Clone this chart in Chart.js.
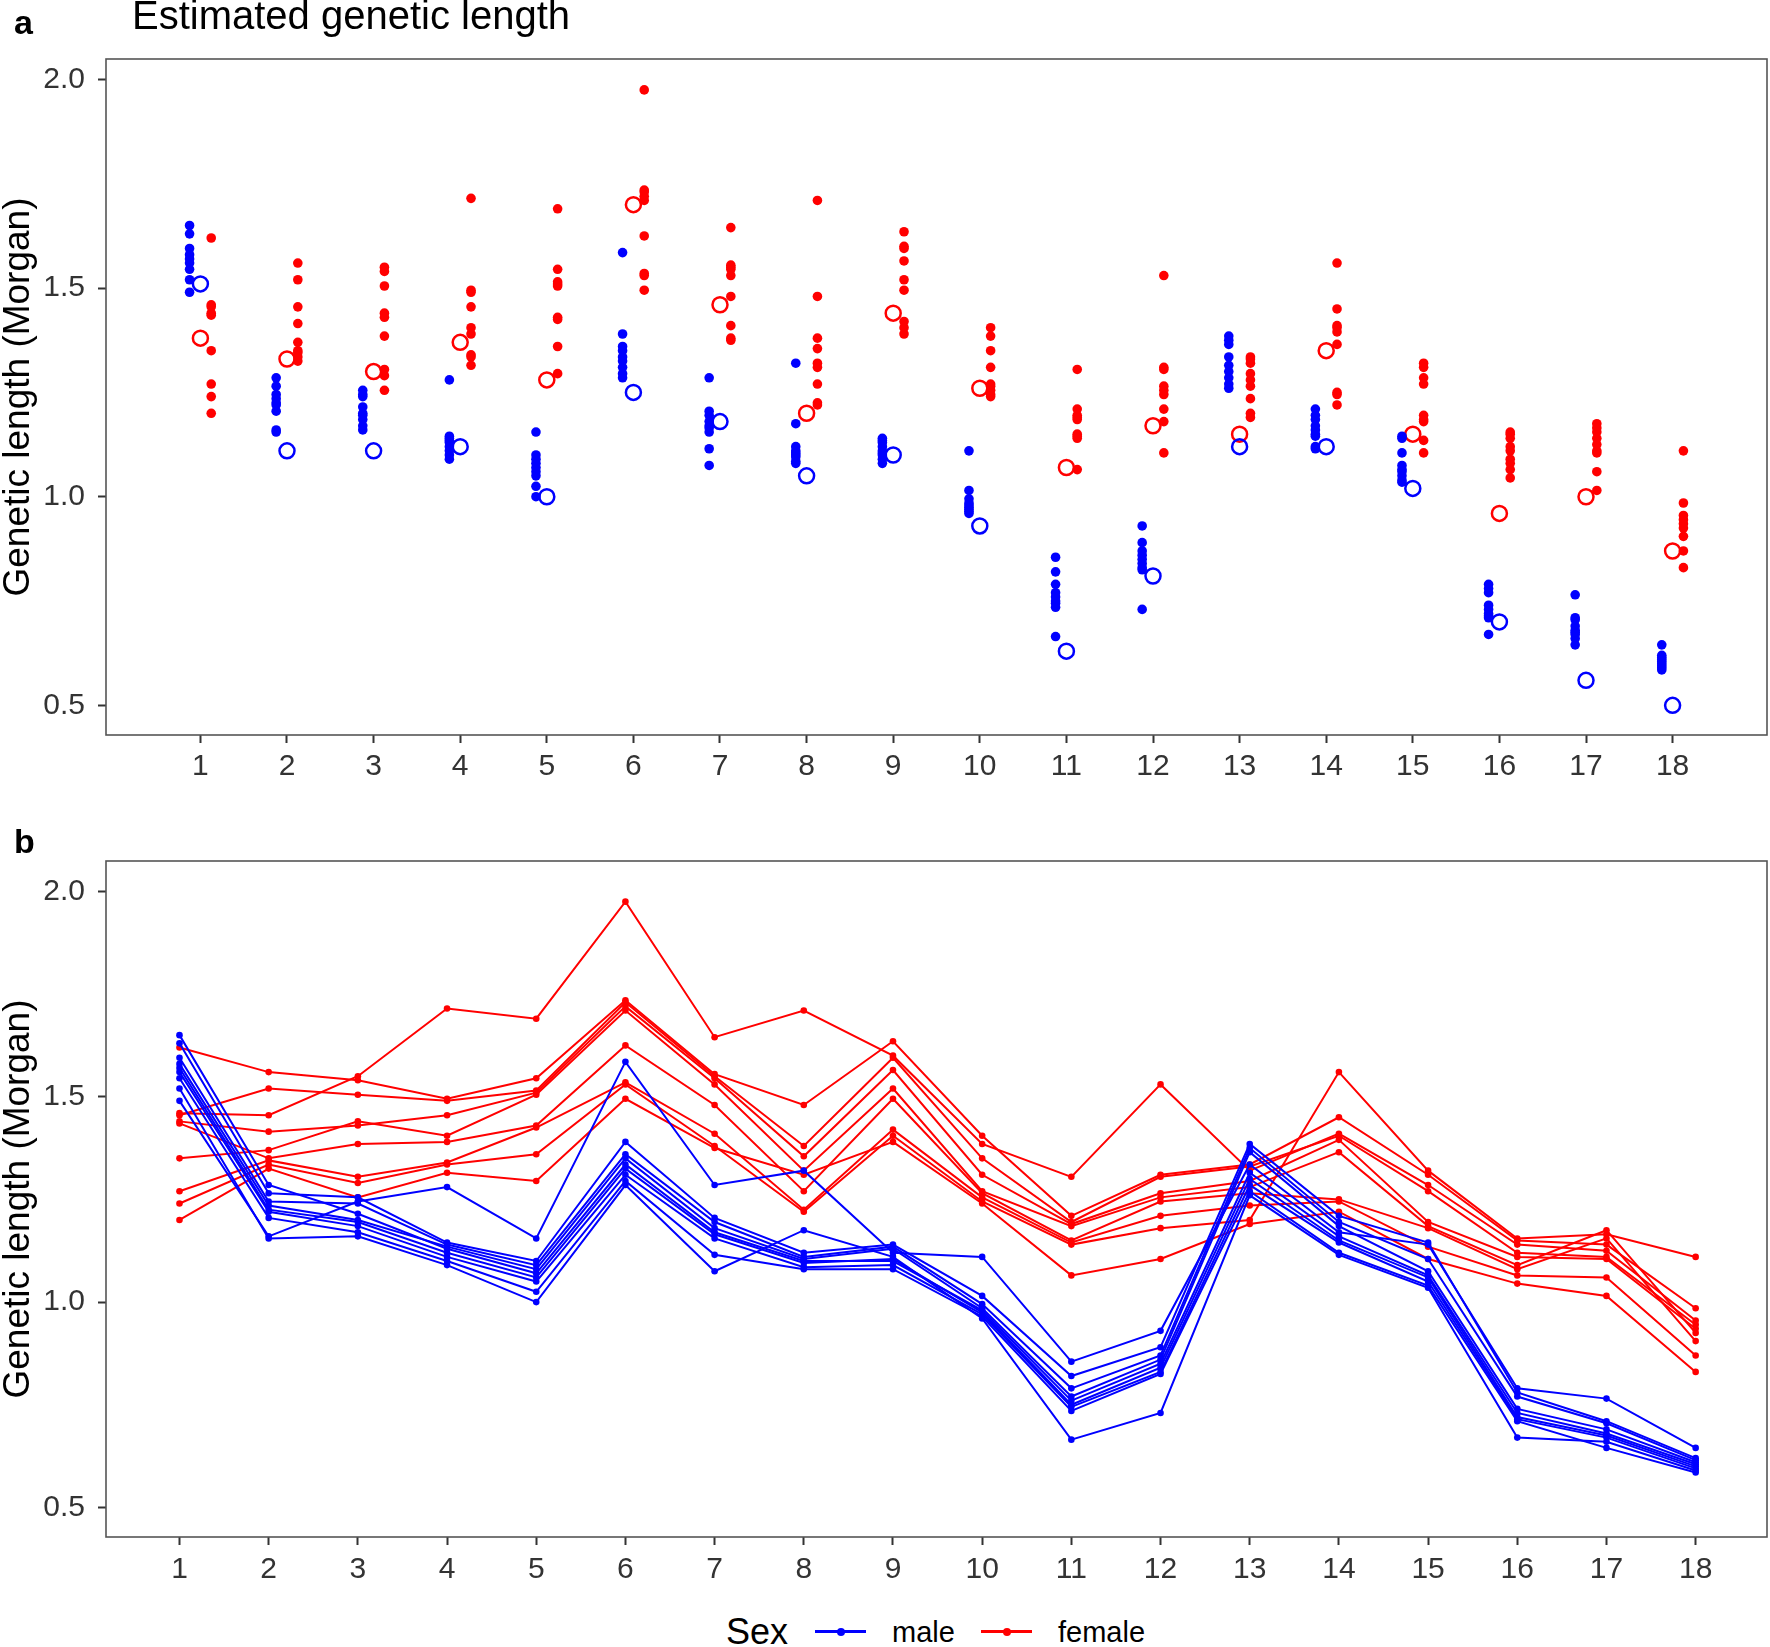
<!DOCTYPE html>
<html><head><meta charset="utf-8">
<script src="https://cdn.jsdelivr.net/npm/chart.js@4.4.1/dist/chart.umd.min.js"></script>
<style>
html,body{margin:0;padding:0;background:#fff;}
body{width:1770px;height:1647px;position:relative;overflow:hidden;font-family:"Liberation Sans",Arial,Helvetica,sans-serif;}
#ca{position:absolute;left:0;top:0;}
#cb{position:absolute;left:0;top:800px;}
.lg{position:absolute;white-space:nowrap;color:#000;line-height:1;}
.ln{position:absolute;height:3px;}
.dt{position:absolute;width:8px;height:8px;border-radius:50%;}
</style></head><body>
<canvas id="ca" width="1770" height="790"></canvas>
<canvas id="cb" width="1770" height="800"></canvas>
<div class="lg" style="left:726px;top:1614px;font-size:36px;">Sex</div>
<div class="ln" style="left:815px;top:1630px;width:51px;background:#0000FF;"></div>
<div class="dt" style="left:837px;top:1627.5px;background:#0000FF;"></div>
<div class="lg" style="left:892px;top:1618px;font-size:29px;">male</div>
<div class="ln" style="left:981px;top:1630px;width:51px;background:#FF0000;"></div>
<div class="dt" style="left:1003px;top:1627.5px;background:#FF0000;"></div>
<div class="lg" style="left:1058px;top:1618px;font-size:29px;">female</div>
<script>
// ---------------- data ----------------
const chromosomes = [1,2,3,4,5,6,7,8,9,10,11,12,13,14,15,16,17,18];
const yTicks = [0.5, 1.0, 1.5, 2.0];

// male individuals (genetic length in Morgan, chromosomes 1..18)
const m1 = [1.49,1.16,1.245,1.28,1.155,1.585,1.285,1.32,1.12,1.11,0.855,0.93,1.335,1.17,1.14,0.79,0.765,0.645];
const m2 = [1.65,1.285,1.215,1.13,1.07,1.335,1.17,1.10,1.10,0.98,0.76,0.85,1.315,1.16,1.065,0.73,0.68,0.605];
const m3 = [1.63,1.265,1.255,1.145,1.10,1.39,1.205,1.12,1.14,1.015,0.82,0.89,1.385,1.21,1.145,0.78,0.71,0.62];
const m4 = [1.595,1.245,1.24,1.14,1.09,1.36,1.195,1.11,1.135,0.995,0.79,0.87,1.375,1.195,1.105,0.77,0.705,0.615];
const m5 = [1.58,1.235,1.20,1.135,1.08,1.35,1.18,1.105,1.13,0.985,0.77,0.86,1.365,1.185,1.075,0.74,0.69,0.61];
const m6 = [1.57,1.225,1.195,1.12,1.06,1.325,1.165,1.095,1.105,0.975,0.75,0.84,1.30,1.15,1.06,0.72,0.675,0.60];
const m7 = [1.56,1.22,1.185,1.11,1.05,1.31,1.155,1.085,1.09,0.97,0.745,0.83,1.285,1.145,1.05,0.715,0.67,0.595];
const m8 = [1.545,1.205,1.17,1.10,1.025,1.295,1.115,1.08,1.08,0.965,0.735,0.825,1.27,1.12,1.04,0.71,0.645,0.585];
const m9 = [1.52,1.155,1.16,1.09,1.00,1.285,1.075,1.175,1.11,0.96,0.665,0.73,1.26,1.115,1.035,0.67,0.66,0.59];

// female individuals
const f1 = [1.62,1.56,1.54,1.495,1.545,1.735,1.555,1.48,1.635,1.405,1.21,1.31,1.335,1.45,1.31,1.15,1.14,0.985];
const f2 = [1.46,1.455,1.55,1.715,1.69,1.975,1.645,1.71,1.60,1.385,1.305,1.53,1.32,1.41,1.285,1.14,1.125,0.955];
const f3 = [1.455,1.52,1.505,1.49,1.515,1.73,1.55,1.38,1.595,1.35,1.195,1.305,1.33,1.405,1.27,1.12,1.11,0.945];
const f4 = [1.44,1.415,1.43,1.455,1.51,1.72,1.545,1.355,1.565,1.31,1.19,1.265,1.295,1.395,1.195,1.11,1.105,0.935];
const f5 = [1.35,1.37,1.44,1.405,1.505,1.71,1.53,1.32,1.52,1.27,1.185,1.255,1.28,1.365,1.185,1.09,1.175,0.925];
const f6 = [1.435,1.35,1.385,1.39,1.43,1.625,1.48,1.27,1.495,1.265,1.15,1.245,1.265,1.25,1.18,1.08,1.155,0.905];
const f7 = [1.27,1.345,1.305,1.34,1.425,1.535,1.41,1.225,1.42,1.255,1.145,1.21,1.235,1.245,1.135,1.065,1.06,0.87];
const f8 = [1.24,1.335,1.29,1.335,1.36,1.53,1.38,1.22,1.405,1.245,1.14,1.18,1.20,1.56,1.32,1.155,1.165,1.11];
const f9 = [1.20,1.325,1.255,1.315,1.295,1.495,1.375,1.31,1.39,1.24,1.065,1.105,1.19,1.22,1.105,1.045,1.015,0.83];

// estimated (open circle) values per chromosome
const maleEstimate   = [1.51,1.11,1.11,1.12,1.00,1.25,1.18,1.05,1.10,0.93,0.63,0.81,1.12,1.12,1.02,0.70,0.56,0.50];
const femaleEstimate = [1.38,1.33,1.30,1.37,1.28,1.70,1.46,1.20,1.44,1.26,1.07,1.17,1.15,1.35,1.15,0.96,1.00,0.87];

const males = [m1,m2,m3,m4,m5,m6,m7,m8,m9];
const females = [f1,f2,f3,f4,f5,f6,f7,f8,f9];

// ---------------- styling ----------------
const FONT = '"Liberation Sans", Arial, Helvetica, sans-serif';
const BLUE = '#0000FF', RED = '#FF0000';
const DODGE = 0.125;

const framePlugin = {
  id: 'frame',
  beforeDatasetsDraw(chart) {
    const {ctx, chartArea: a} = chart;
    ctx.save();
    ctx.strokeStyle = '#555'; ctx.lineWidth = 1.6;
    ctx.strokeRect(a.left, a.top, a.right - a.left, a.bottom - a.top);
    ctx.restore();
  }
};
const textPlugin = {
  id: 'panelText',
  afterDraw(chart, args, opts) {
    const ctx = chart.ctx;
    ctx.save();
    ctx.textBaseline = 'alphabetic'; ctx.textAlign = 'left'; ctx.fillStyle = '#000';
    (opts.items || []).forEach(it => { ctx.font = it.font; ctx.fillText(it.text, it.x, it.y); });
    ctx.restore();
  }
};

function yAxis(min, max) {
  return {
    type: 'linear', min, max,
    afterBuildTicks: s => { s.ticks = yTicks.map(v => ({value: v})); },
    afterFit: s => { s.width = 106; },
    ticks: { font: {family: FONT, size: 30}, color: '#333', padding: 13, callback: v => Number(v).toFixed(1) },
    grid: { drawOnChartArea: false, drawTicks: true, tickLength: 8, tickWidth: 2, tickColor: '#333' },
    border: { display: false },
    title: { display: true, text: 'Genetic length (Morgan)', color: '#000',
             font: {family: FONT, size: 37, lineHeight: 1}, padding: {top: 0, bottom: 0} }
  };
}
function xAxis(min, max, h, pad) {
  return {
    type: 'linear', min, max,
    afterBuildTicks: s => { s.ticks = chromosomes.map(v => ({value: v})); },
    afterFit: s => { s.height = h; },
    ticks: { font: {family: FONT, size: 30}, color: '#333', padding: pad, autoSkip: false, maxRotation: 0,
             callback: v => String(v) },
    grid: { drawOnChartArea: false, drawTicks: true, tickLength: 8, tickWidth: 2, tickColor: '#333' },
    border: { display: false }
  };
}

// ---------------- panel a ----------------
const pts = (arr, off) => arr.flatMap(s => s.map((v, i) => ({x: chromosomes[i] + off, y: v})));
new Chart(document.getElementById('ca'), {
  type: 'scatter',
  data: { datasets: [
    { label: 'male', data: pts(males, -DODGE), pointRadius: 4.8, pointBackgroundColor: BLUE, pointBorderWidth: 0 },
    { label: 'female', data: pts(females, DODGE), pointRadius: 4.8, pointBackgroundColor: RED, pointBorderWidth: 0 },
    { label: 'male estimate', data: maleEstimate.map((v, i) => ({x: chromosomes[i], y: v})),
      pointRadius: 7.5, pointBackgroundColor: 'rgba(0,0,0,0)', pointBorderColor: BLUE, pointBorderWidth: 2.5 },
    { label: 'female estimate', data: femaleEstimate.map((v, i) => ({x: chromosomes[i], y: v})),
      pointRadius: 7.5, pointBackgroundColor: 'rgba(0,0,0,0)', pointBorderColor: RED, pointBorderWidth: 2.5 }
  ]},
  options: {
    responsive: false, animation: false, events: [],
    layout: { autoPadding: false, padding: { top: 59, right: 3, left: 0, bottom: 0 } },
    plugins: { legend: {display: false}, tooltip: {enabled: false},
      panelText: { items: [
        {text: 'a', x: 14, y: 34, font: 'bold 34px ' + FONT},
        {text: 'Estimated genetic length', x: 132, y: 29, font: '40px ' + FONT}
      ]}},
    scales: { x: xAxis(-0.09, 19.09, 55, 6), y: yAxis(0.429, 2.049) }
  },
  plugins: [framePlugin, textPlugin]
});

// ---------------- panel b ----------------
const lineSet = (s, color, k) => ({
  label: k, data: s.map((v, i) => ({x: chromosomes[i], y: v})),
  showLine: true, borderColor: color, borderWidth: 2, pointRadius: 3.3,
  pointBackgroundColor: color, pointBorderWidth: 0, fill: false, tension: 0
});
new Chart(document.getElementById('cb'), {
  type: 'scatter',
  data: { datasets: [
    ...males.map((s, k) => lineSet(s, BLUE, 'male ' + (k + 1))),
    ...females.map((s, k) => lineSet(s, RED, 'female ' + (k + 1)))
  ]},
  options: {
    responsive: false, animation: false, events: [],
    layout: { autoPadding: false, padding: { top: 61, right: 3, left: 0, bottom: 0 } },
    plugins: { legend: {display: false}, tooltip: {enabled: false},
      panelText: { items: [ {text: 'b', x: 14, y: 53, font: 'bold 34px ' + FONT} ] } },
    scales: { x: xAxis(0.176, 18.80, 63, 7), y: yAxis(0.428, 2.074) }
  },
  plugins: [framePlugin, textPlugin]
});
</script>
</body></html>
